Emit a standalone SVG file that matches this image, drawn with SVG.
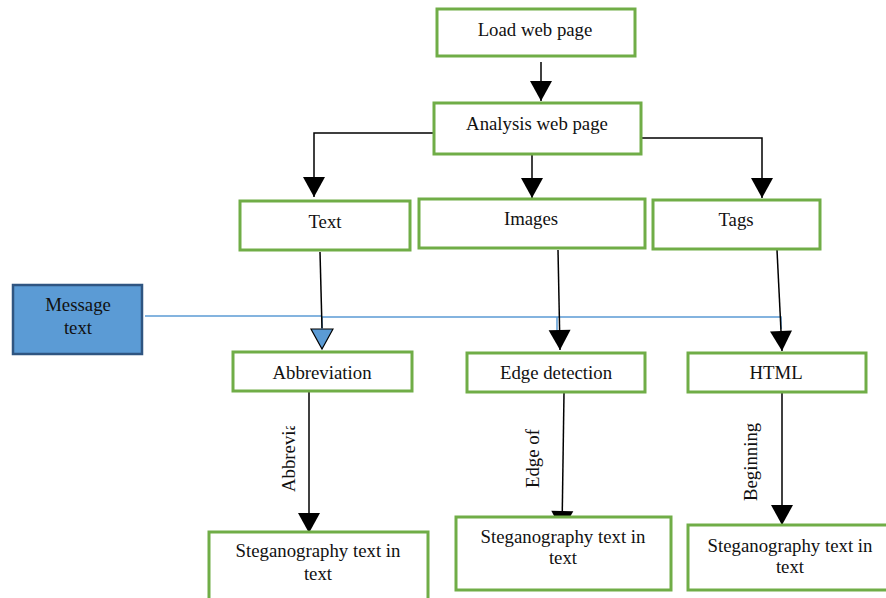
<svg xmlns="http://www.w3.org/2000/svg" width="886" height="598" viewBox="0 0 886 598">
<style>
.box{fill:#fff;stroke:#70ad47;stroke-width:3}
.msg{fill:#5b9bd5;stroke:#2f5581;stroke-width:2.5}
.t{font-family:"Liberation Serif","Times New Roman",serif;font-size:18.8px;fill:#111;text-anchor:middle}
.lbl{font-family:"Liberation Serif","Times New Roman",serif;font-size:18.8px;fill:#111}
.c{fill:none;stroke:#000;stroke-width:1.5}
.b{fill:none;stroke:#5b9bd5;stroke-width:1.5}
</style>
<defs>
<marker id="ah" markerUnits="userSpaceOnUse" markerWidth="24" markerHeight="24" refX="21" refY="11.5" orient="auto" viewBox="0 0 24 24">
<path d="M1,0.5 L21,11.5 L1,22.5 z" fill="#000"/>
</marker>
<marker id="ahb" markerUnits="userSpaceOnUse" markerWidth="24" markerHeight="24" refX="21" refY="11.5" orient="auto" viewBox="0 0 24 24">
<path d="M1,0.5 L21,11.5 L1,22.5 z" fill="#5b9bd5" stroke="#000" stroke-width="1.2"/>
</marker>
<clipPath id="clipA"><rect x="-5" y="-25" width="71" height="35"/></clipPath>
</defs>

<g id="connectors">
<path class="b" d="M145,316 H322"/>
<path class="b" d="M322,317 H781 V329"/>
<path class="b" d="M557,317 V340"/>
<path class="b" d="M322,317 V349" marker-end="url(#ahb)"/>
<path class="c" d="M541,62 V101" marker-end="url(#ah)"/>
<path class="c" d="M434,133 H314 V197" marker-end="url(#ah)"/>
<path class="c" d="M532,155 V198" marker-end="url(#ah)"/>
<path class="c" d="M641,138 H762 V198" marker-end="url(#ah)"/>
<path class="c" d="M320,252 L322,328"/>
<path class="c" d="M558,250 L560,350" marker-end="url(#ah)"/>
<path class="c" d="M777,250 L782,351" marker-end="url(#ah)"/>
<path class="c" d="M309,392 V533" marker-end="url(#ah)"/>
<path class="c" d="M564,393 L562,531" marker-end="url(#ah)"/>
<path class="c" d="M782,393 V525" marker-end="url(#ah)"/>
<text class="lbl" clip-path="url(#clipA)" transform="translate(295,492) rotate(-90)">Abbreviation</text>
<text class="lbl" transform="translate(539,488) rotate(-90)">Edge of</text>
<text class="lbl" transform="translate(757,501) rotate(-90)">Beginning</text>
</g>

<g id="load"><rect class="box" x="437" y="9" width="198" height="47"/><text class="t" x="535" y="36">Load web page</text></g>
<g id="analysis"><rect class="box" x="434" y="103" width="207" height="51"/><text class="t" x="537" y="130">Analysis web page</text></g>
<g id="text"><rect class="box" x="240" y="201" width="170" height="49"/><text class="t" x="325" y="228">Text</text></g>
<g id="images"><rect class="box" x="419" y="199" width="226" height="49"/><text class="t" x="531" y="225">Images</text></g>
<g id="tags"><rect class="box" x="653" y="200" width="167" height="49"/><text class="t" x="736" y="226">Tags</text></g>
<g id="message"><rect class="msg" x="13" y="285" width="129" height="69"/><text class="t" x="78" y="311">Message</text><text class="t" x="78" y="334">text</text></g>
<g id="abbreviation"><rect class="box" x="233" y="352" width="179" height="39"/><text class="t" x="322" y="379">Abbreviation</text></g>
<g id="edge"><rect class="box" x="467" y="353" width="178" height="39"/><text class="t" x="556" y="379">Edge detection</text></g>
<g id="html"><rect class="box" x="688" y="353" width="178" height="39"/><text class="t" x="776" y="379">HTML</text></g>
<g id="steg1"><rect class="box" x="209" y="532" width="219" height="70"/><text class="t" x="318" y="557">Steganography text in</text><text class="t" x="318" y="580">text</text></g>
<g id="steg2"><rect class="box" x="456" y="517" width="215" height="73"/><text class="t" x="563" y="543">Steganography text in</text><text class="t" x="563" y="564">text</text></g>
<g id="steg3"><rect class="box" x="688" y="525" width="200" height="65"/><text class="t" x="790" y="552">Steganography text in</text><text class="t" x="790" y="573">text</text></g>
</svg>
